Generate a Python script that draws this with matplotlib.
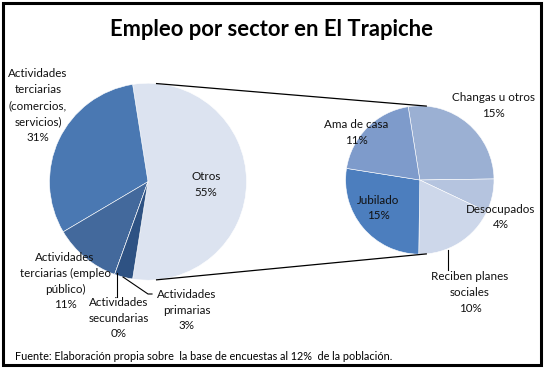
import matplotlib.pyplot as plt
import numpy as np

plt.rcParams['font.family'] = ['Lato', 'DejaVu Sans']

# Datos del gráfico principal
sectores = ["Otros",
            "Actividades\nterciarias\n(comercios,\nservicios)",
            "Actividades\nterciarias (empleo\npúblico)",
            "Actividades\nsecundarias",
            "Actividades\nprimarias"]
valores = [55, 31, 11, 0, 3]
colores = ['#DCE3F0', '#4A78B2', '#43699C', '#3A5E8E', '#2E5283']

# Datos del gráfico secundario (desglose de "Otros")
otros_cat = ["Changas u otros", "Desocupados", "Reciben planes\nsociales",
             "Jubilado", "Ama de casa"]
otros_val = [15, 4, 10, 15, 11]
otros_col = ['#9BB0D3', '#B5C4DF', '#CDD7EA', '#4C7EBE', '#7E9BCB']

W, H = 545, 369
fig = plt.figure(figsize=(W / 100, H / 100), dpi=100)
ax = fig.add_axes([0, 0, 1, 1])

c1, r1 = (148, H - 181.7), 98.5
c2, r2 = (419.8, H - 180), 74.2

half = valores[0] * 3.6 / 2
ax.pie(valores, colors=colores, startangle=-half, counterclock=True,
       center=c1, radius=r1, frame=True,
       wedgeprops=dict(edgecolor='white', linewidth=0.4))
ax.pie(otros_val, colors=otros_col, startangle=half, counterclock=False,
       center=c2, radius=r2, frame=True,
       wedgeprops=dict(edgecolor='white', linewidth=0.4))
ax.set_xlim(0, W)
ax.set_ylim(0, H)
ax.set_aspect('equal')
ax.axis('off')

# lineas de conexion
a = np.deg2rad(85)
for s in (1, -1):
    x1 = c1[0] + r1 * np.cos(a)
    y1 = c1[1] + s * r1 * np.sin(a)
    x2 = c2[0] + r2 * np.cos(a)
    y2 = c2[1] + s * r2 * np.sin(a)
    ax.plot([x1, x2], [y1, y2], color='black', lw=0.9)

fs = 8.4
tk = dict(ha='center', va='center', fontsize=fs, linespacing=1.55, color='#111111')

# etiquetas grafico principal
pos1 = [(206, 184.5), (38, 105.5), (65, 281), (119, 318), (187, 310)]
for lab, v, (x, y) in zip(sectores, valores, pos1):
    ax.text(x, H - y, f"{lab}\n{v}%", **tk)

# etiquetas grafico secundario
pos2 = [(493, 105.5), (501, 217), (470, 292.7), (378, 208), (356, 132.5)]
for lab, v, (x, y) in zip(otros_cat, otros_val, pos2):
    ax.text(x, H - y, f"{lab}\n{v}%", **tk)

# lineas guia
ax.plot([117, 117], [H - 273, H - 297], color='black', lw=0.8)
ax.plot([123, 148, 152], [H - 277, H - 294, H - 294], color='black', lw=0.8)
ax.plot([448, 448], [H - 250, H - 270], color='black', lw=0.8)

ax.text(271.5, H - 29, "Empleo por sector en El Trapiche", ha='center', va='center',
        fontsize=15.8, fontweight='bold', color='black')
ax.text(15, H - 357, "Fuente: Elaboración propia sobre  la base de encuestas al 12%  de la población.",
        ha='left', va='center', fontsize=7.8, color='black')

# borde
ax.add_patch(plt.Rectangle((3.3, H - 364.5), 537.8, 361.3, fill=False,
                           edgecolor='black', lw=2.2))

fig.savefig('out.png', dpi=100)
